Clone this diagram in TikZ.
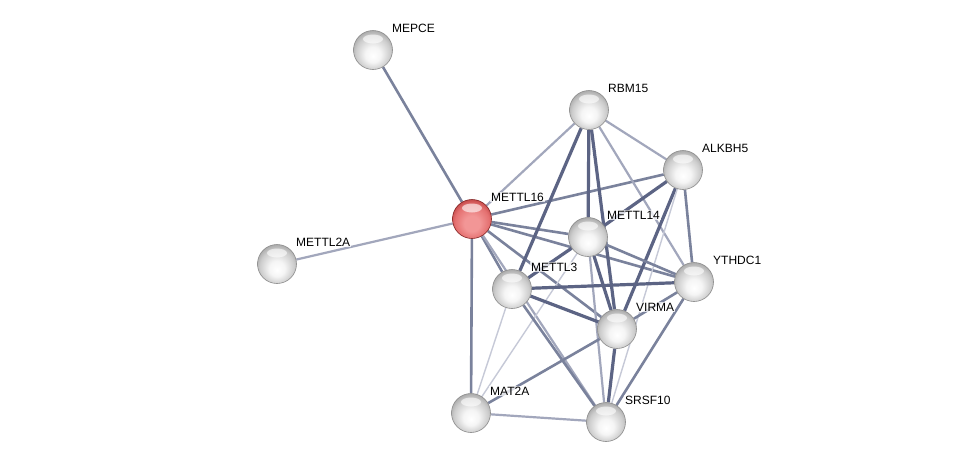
\documentclass[tikz,border=0pt]{standalone}
\usepackage{fontspec}
\setmainfont{Liberation Sans}
\usepackage{tikz}
\usetikzlibrary{calc,backgrounds}
\definecolor{edgedark}{RGB}{92,100,132}
\definecolor{edgemid}{RGB}{122,130,156}
\definecolor{edgelight}{RGB}{162,167,188}
\definecolor{edgefaint}{RGB}{198,201,215}
\definecolor{protrim}{RGB}{140,140,140}
\definecolor{queryrim}{RGB}{130,35,35}
\definecolor{qa}{RGB}{242,150,150}
\definecolor{qb}{RGB}{228,112,112}
\definecolor{qc}{RGB}{196,72,72}
\definecolor{qd}{RGB}{150,40,40}
\pgfdeclareradialshading{protball}{\pgfpoint{0bp}{-8bp}}{color(0bp)=(white);
  color(10bp)=(white!96!black); color(22bp)=(white!80!black);
  color(28bp)=(white!66!black); color(40bp)=(white!55!black)}
\pgfdeclareradialshading{queryball}{\pgfpoint{0bp}{-8bp}}{color(0bp)=(qa);
  color(10bp)=(qa); color(22bp)=(qb); color(28bp)=(qc); color(40bp)=(qd)}

\begin{document}
\begin{tikzpicture}[x=1pt,y=-1pt,
  prot/.style={circle,minimum size=39pt,inner sep=0pt,shading=protball,
               draw=protrim,line width=0.6pt,
               path picture={\fill[white,opacity=0.6]
                 ($(path picture bounding box.center)+(0,-11)$) ellipse (10pt and 4.5pt);}},
  query/.style={prot,shading=queryball,draw=queryrim},
  lbl/.style={anchor=base west,inner sep=1pt,fill=white,fill opacity=0.75,text opacity=1,
              font=\fontsize{12}{14}\selectfont},
  hi/.style={line width=3.2pt,color=edgedark},
  md/.style={line width=2.6pt,color=edgemid},
  lo/.style={line width=2.2pt,color=edgelight},
  fa/.style={line width=1.4pt,color=edgefaint}]
  \useasboundingbox (0,0) rectangle (975,467);
  % proteins
  \node[prot]  (mepce)   at (373,50)  {};
  \node[prot]  (rbm15)   at (589,110) {};
  \node[prot]  (alkbh5)  at (683,170) {};
  \node[query] (mettl16) at (472,219) {};
  \node[prot]  (mettl14) at (588,237) {};
  \node[prot]  (mettl2a) at (277,264) {};
  \node[prot]  (ythdc1)  at (694,282) {};
  \node[prot]  (mettl3)  at (512,289) {};
  \node[prot]  (virma)   at (617,329) {};
  \node[prot]  (mat2a)   at (471,413) {};
  \node[prot]  (srsf10)  at (606,422) {};
  % labels
  \node[lbl] (mepce-l)   at ($(mepce)+(18,-18)$)   {MEPCE};
  \node[lbl] (rbm15-l)   at ($(rbm15)+(18,-18)$)   {RBM15};
  \node[lbl] (alkbh5-l)  at ($(alkbh5)+(18,-18)$)  {ALKBH5};
  \node[lbl] (mettl16-l) at ($(mettl16)+(18,-18)$) {METTL16};
  \node[lbl] (mettl14-l) at ($(mettl14)+(18,-18)$) {METTL14};
  \node[lbl] (mettl2a-l) at ($(mettl2a)+(18,-18)$) {METTL2A};
  \node[lbl] (ythdc1-l)  at ($(ythdc1)+(18,-18)$)  {YTHDC1};
  \node[lbl] (mettl3-l)  at ($(mettl3)+(18,-18)$)  {METTL3};
  \node[lbl] (virma-l)   at ($(virma)+(18,-18)$)   {VIRMA};
  \node[lbl] (mat2a-l)   at ($(mat2a)+(18,-18)$)   {MAT2A};
  \node[lbl] (srsf10-l)  at ($(srsf10)+(18,-18)$)  {SRSF10};
  % interactions
  \begin{scope}[on background layer]
    \fill[white] (0,0) rectangle (975,467);
    \draw[md] (mettl16)--(mepce);
    \draw[lo] (mettl16)--(mettl2a);
    \draw[lo] (mettl16)--(rbm15);
    \draw[md] (mettl16)--(alkbh5);
    \draw[md] (mettl16)--(mettl14);
    \draw[md] (mettl16)--(ythdc1);
    \draw[md] (mettl16)--(mettl3);
    \draw[md] (mettl16)--(virma);
    \draw[md] (mettl16)--(mat2a);
    \draw[lo] (mettl16)--(srsf10);
    \draw[hi] (rbm15)--(mettl3);
    \draw[hi] (rbm15)--(mettl14);
    \draw[hi] (rbm15)--(virma);
    \draw[lo] (rbm15)--(alkbh5);
    \draw[lo] (rbm15)--(ythdc1);
    \draw[hi] (alkbh5)--(mettl14);
    \draw[hi] (alkbh5)--(virma);
    \draw[md] (alkbh5)--(ythdc1);
    \draw[fa] (alkbh5)--(srsf10);
    \draw[hi] (mettl14)--(mettl3);
    \draw[hi] (mettl14)--(virma);
    \draw[md] (mettl14)--(ythdc1);
    \draw[lo] (mettl14)--(srsf10);
    \draw[fa] (mettl14)--(mat2a);
    \draw[hi] (mettl3)--(ythdc1);
    \draw[hi] (mettl3)--(virma);
    \draw[md] (mettl3)--(srsf10);
    \draw[fa] (mettl3)--(mat2a);
    \draw[md] (ythdc1)--(virma);
    \draw[md] (ythdc1)--(srsf10);
    \draw[hi] (virma)--(srsf10);
    \draw[md] (virma)--(mat2a);
    \draw[lo] (mat2a)--(srsf10);
  \end{scope}
\end{tikzpicture}
\end{document}
